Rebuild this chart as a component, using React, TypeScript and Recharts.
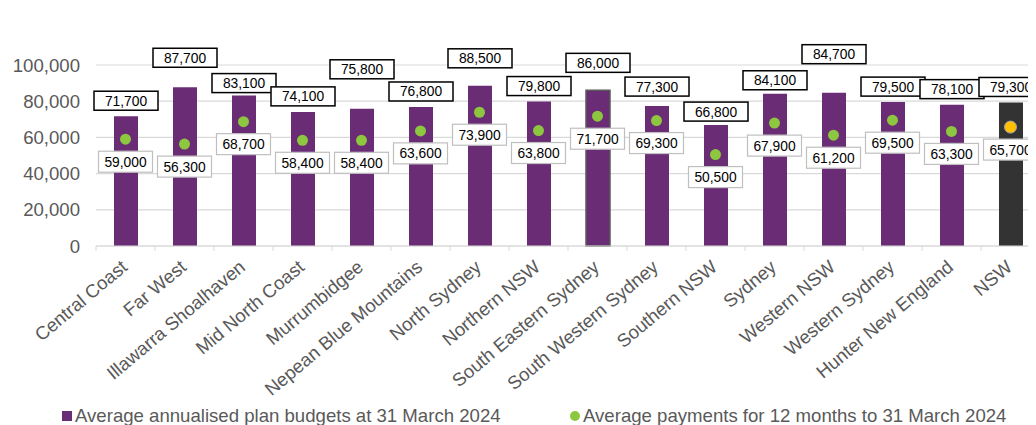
import React from 'react';
import { ComposedChart, Bar, Line, XAxis, YAxis, CartesianGrid, Legend, LabelList, Cell } from 'recharts';

const regions = [
  'Central Coast', 'Far West', 'Illawarra Shoalhaven', 'Mid North Coast', 'Murrumbidgee',
  'Nepean Blue Mountains', 'North Sydney', 'Northern NSW', 'South Eastern Sydney',
  'South Western Sydney', 'Southern NSW', 'Sydney', 'Western NSW', 'Western Sydney',
  'Hunter New England', 'NSW',
];
const budgets = [71700, 87700, 83100, 74100, 75800, 76800, 88500, 79800, 86000, 77300, 66800, 84100, 84700, 79500, 78100, 79300];
const payments = [59000, 56300, 68700, 58400, 58400, 63600, 73900, 63800, 71700, 69300, 50500, 67900, 61200, 69500, 63300, 65700];
const yTicks = [0, 20000, 40000, 60000, 80000, 100000];
const seriesNames = [
  'Average annualised plan budgets at 31 March 2024',
  'Average payments for 12 months to 31 March 2024',
];
const totalCategory = 'NSW';

const data = regions.map((region, i) => ({ region, budget: budgets[i], payment: payments[i] }));

const FONT = '"Liberation Sans", Arial, sans-serif';
const PURPLE = '#6B2C76';
const DARK = '#333333';
const GREEN = '#8DC63F';
const ORANGE = '#FFC000';
const GRID = '#D9D9D9';
const TEXT = '#595959';
const AXIS_FONT = 18.6;

// manual label placement (gap between bar top and label box), as in the source
const budgetLabelGap: Record<string, number> = {
  'Far West': 20, 'Murrumbidgee': 30, 'North Sydney': 18, 'South Eastern Sydney': 18,
  'Western NSW': 29, 'South Western Sydney': 10, 'Illawarra Shoalhaven': 3,
  'Southern NSW': 4, 'Sydney': 4,
};

const fmt = (v: number) => Number(v).toLocaleString('en-US');

const BudgetLabel = (props: any) => {
  const { x, y, width, value, index } = props;
  const cx = x + width / 2;
  const gap = budgetLabelGap[regions[index]] ?? 6;
  const h = 19;
  const w = 64;
  const top = y - gap - h;
  return (
    <g>
      <rect x={cx - w / 2} y={top} width={w} height={h} fill="#fff" stroke="#000" strokeWidth={1.5} />
      <text x={cx} y={top + h / 2} dy="0.36em" textAnchor="middle" fontFamily={FONT} fontSize={13.8} fill="#000">
        {fmt(value)}
      </text>
    </g>
  );
};

const PaymentLabel = (props: any) => {
  const { x, y, value } = props;
  const w = 54;
  const h = 21;
  const top = y + 12;
  return (
    <g>
      <rect x={x - w / 2} y={top} width={w} height={h} fill="#fff" stroke="#BFBFBF" strokeWidth={1.2} />
      <text x={x} y={top + h / 2} dy="0.36em" textAnchor="middle" fontFamily={FONT} fontSize={13.8} fill="#000">
        {fmt(value)}
      </text>
    </g>
  );
};

const PaymentDot = (props: any) => {
  const { cx, cy, payload, index } = props;
  const isTotal = payload && payload.region === totalCategory;
  return (
    <circle
      key={`dot-${index}`}
      cx={cx}
      cy={cy}
      r={isTotal ? 6 : 5.5}
      fill={isTotal ? ORANGE : GREEN}
      stroke={isTotal ? '#A6A6A6' : 'none'}
      strokeWidth={isTotal ? 1 : 0}
    />
  );
};

const XTick = (props: any) => {
  const { x, y, payload, index, visibleTicksCount } = props;
  const half = payload && typeof payload.offset === 'number' && payload.offset > 0 ? payload.offset : 29.5;
  const ax = x + 3;
  const ay = y + 23;
  const last = index === (visibleTicksCount ?? regions.length) - 1;
  return (
    <g>
      <line x1={x - half} x2={x - half} y1={y} y2={y + 5} stroke={GRID} strokeWidth={1} />
      {last && <line x1={x + half} x2={x + half} y1={y} y2={y + 5} stroke={GRID} strokeWidth={1} />}
      <text
        x={ax}
        y={ay}
        transform={`rotate(-40, ${ax}, ${ay})`}
        textAnchor="end"
        fontFamily={FONT}
        fontSize={AXIS_FONT}
        fill={TEXT}
      >
        {payload.value}
      </text>
    </g>
  );
};

const LegendContent = () => (
  <div style={{ position: 'relative', height: 24, fontFamily: FONT, fontSize: AXIS_FONT, color: TEXT, lineHeight: '24px' }}>
    <span style={{ position: 'absolute', left: 54, top: 10, width: 10, height: 10, background: PURPLE }} />
    <span style={{ position: 'absolute', left: 67, top: 3, whiteSpace: 'nowrap' }}>{seriesNames[0]}</span>
    <span style={{ position: 'absolute', left: 562, top: 10, width: 10, height: 10, borderRadius: 5, background: GREEN }} />
    <span style={{ position: 'absolute', left: 575, top: 3, whiteSpace: 'nowrap' }}>{seriesNames[1]}</span>
  </div>
);

export default function App() {
  return (
    <div style={{ width: 1028, height: 417, overflow: 'hidden' }}>
      <ComposedChart
        width={1040}
        height={417}
        data={data}
        margin={{ top: 57, right: 8, bottom: 0, left: 0 }}
        barCategoryGap={0}
      >
        <CartesianGrid vertical={false} stroke={GRID} strokeWidth={1.2} />
        <XAxis
          dataKey="region"
          interval={0}
          height={155}
          tickSize={0}
          tickMargin={0}
          tickLine={false}
          axisLine={{ stroke: GRID, strokeWidth: 1.2 }}
          tick={<XTick />}
        />
        <YAxis
          width={88}
          domain={[0, 100000]}
          ticks={yTicks}
          interval={0}
          axisLine={false}
          tickLine={false}
          tickMargin={10}
          tickFormatter={fmt}
          tick={{ fill: TEXT, fontSize: AXIS_FONT, fontFamily: FONT }}
        />
        <Bar dataKey="budget" name={seriesNames[0]} barSize={24} fill={PURPLE} isAnimationActive={false}>
          {data.map((d, i) => (
            <Cell
              key={`c-${i}`}
              fill={d.region === totalCategory ? DARK : PURPLE}
              stroke={d.region === 'South Eastern Sydney' ? '#595959' : 'none'}
              strokeWidth={d.region === 'South Eastern Sydney' ? 1.5 : 0}
            />
          ))}
          <LabelList dataKey="budget" content={<BudgetLabel />} />
        </Bar>
        <Line
          dataKey="payment"
          name={seriesNames[1]}
          stroke="none"
          strokeWidth={0}
          dot={PaymentDot}
          activeDot={false}
          isAnimationActive={false}
        >
          <LabelList dataKey="payment" content={<PaymentLabel />} />
        </Line>
        <Legend verticalAlign="bottom" content={<LegendContent />} />
      </ComposedChart>
    </div>
  );
}
